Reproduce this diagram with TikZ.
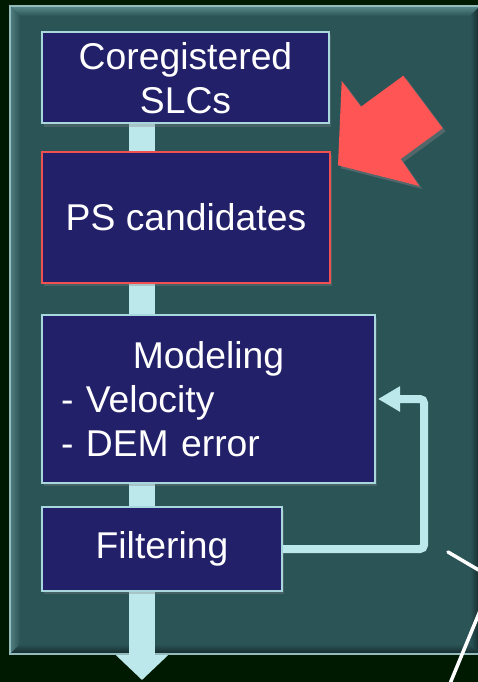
\documentclass[tikz,border=0pt]{standalone}
\usepackage{fontspec}
\setmainfont{Liberation Sans}
\usetikzlibrary{arrows.meta,shadows,backgrounds,calc}
\definecolor{bgc}{HTML}{001A02}
\definecolor{panelc}{HTML}{2B5457}
\definecolor{panelline}{HTML}{94BCBC}
\definecolor{bevellight}{HTML}{5C8C8D}
\definecolor{beveldark}{HTML}{15292B}
\definecolor{boxfill}{HTML}{23206A}
\definecolor{boxline}{HTML}{A8D8DE}
\definecolor{shaftc}{HTML}{BDE8EB}
\definecolor{redc}{HTML}{FF5555}
\definecolor{redline}{HTML}{F05050}
\begin{document}
\begin{tikzpicture}[x=1pt,y=-1pt,
  box/.style={draw=boxline, line width=2pt, fill=boxfill, text=white, inner sep=0pt,
    font=\fontsize{37.3}{44}\selectfont,
    drop shadow={shadow xshift=2pt,shadow yshift=-3pt,opacity=0.35}},
  shaft/.style={draw=shaftc, line width=26pt, -{Triangle[length=25pt,width=51pt]}},
  feedback/.style={draw=shaftc, line width=8pt, rounded corners=4pt, -{Triangle[length=22pt,width=24pt]}},
  pointer/.style={fill=redc, drop shadow={shadow xshift=3pt,shadow yshift=-3pt,opacity=0.45}},
  mark line/.style={draw=white, line width=3.5pt, line cap=round}]
\useasboundingbox (0,0) rectangle (478,682);
\clip (0,0) rectangle (478,682);
% background and panel
\begin{pgfonlayer}{background}
\fill[bgc] (0,0) rectangle (478,682);
\fill[panelc] (10,6) rectangle (480,654);
\shade[top color=bevellight, bottom color=panelc] (10,6) -- (480,6) -- (470,16) -- (20,16) -- cycle;
\shade[left color=bevellight!80!panelc, right color=panelc] (10,6) -- (20,16) -- (20,644) -- (10,654) -- cycle;
\shade[top color=panelc, bottom color=beveldark] (10,654) -- (20,644) -- (470,644) -- (480,654) -- cycle;
\shade[left color=panelc, right color=beveldark] (480,6) -- (470,16) -- (470,644) -- (480,654) -- cycle;
\draw[panelline, line width=1.5pt] (480,6) -- (10,6) -- (10,654) -- (480,654);
\end{pgfonlayer}
% boxes
\node[box, minimum width=287pt, minimum height=91pt, align=center] (b1) at (185.5,78) {Coregistered\\SLCs};
\node[box, draw=redline, minimum width=288pt, minimum height=131pt] (b2) at (186,217.5) {PS candidates};
\node[box, minimum width=333pt, minimum height=168pt, text width=295pt, align=left] (b3) at (208.5,399) {\makebox[295pt]{Modeling}\\- Velocity\\- DEM error};
\node[box, minimum width=240pt, minimum height=84pt] (b4) at (162,549) {Filtering};
\coordinate (out) at (142,680);
\begin{pgfonlayer}{background}
\draw[shaft] (b1.south -| out) -- (out);
\end{pgfonlayer}
% feedback arrow
\draw[feedback] (b4.east) -- ++(141,0) |- ($(b3.east)+(2,0)$);
% red pointer arrow
\path[pointer] (341.7,81) -- (361,106.7) -- (403.3,75.7) -- (442.7,128.3) -- (400.7,159) -- (419.3,186) -- (338,165.3) -- cycle;
% white lines
\draw[mark line] (448,552) -- (482,572);
\draw[mark line] (482,606) -- (449,686);
\end{tikzpicture}
\end{document}
